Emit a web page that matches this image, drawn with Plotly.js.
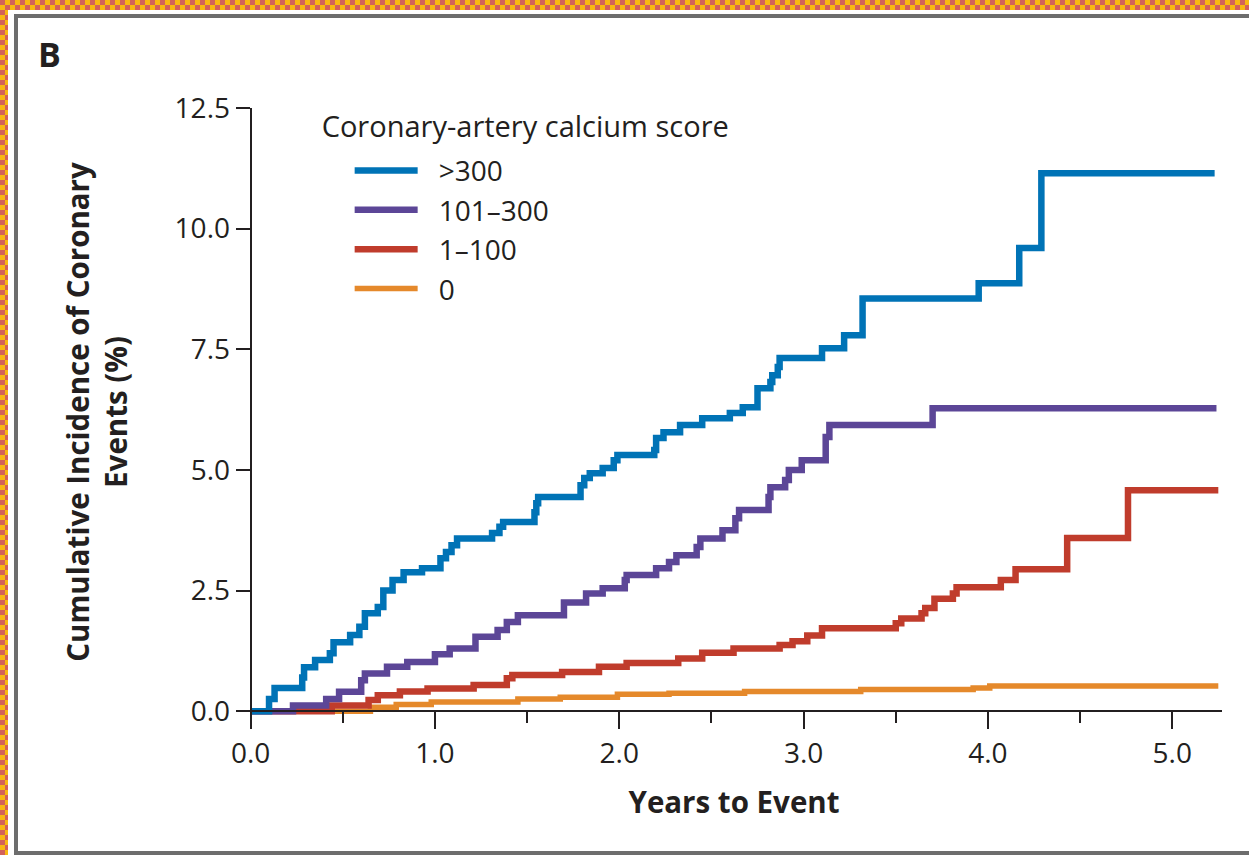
<!DOCTYPE html>
<html><head><meta charset="utf-8">
<script src="https://cdn.plot.ly/plotly-3.0.1.min.js"></script>
<style>
html,body{margin:0;padding:0;width:1249px;height:855px;overflow:hidden;}
body{position:relative;background-color:#d4635a;background-image:repeating-conic-gradient(#f9b812 0 25%, #d2625a 0 50%);background-size:10px 10px;}
#white{position:absolute;left:8px;top:10px;right:0;bottom:0;background:#fff;}
#frame{position:absolute;left:14px;top:14px;width:1300px;bottom:0;border:4px solid #6d6d6d;border-right:none;box-sizing:border-box;}
#chart{position:absolute;left:0;top:0;width:1249px;height:855px;}
</style></head>
<body><div id="white"></div><div id="frame"></div><div id="chart"></div>
<script>
// Series names (legend order)
const seriesNames = ['>300', '101–300', '1–100', '0'];

// >300
const timeGt300 = [0, 0.10, 0.13, 0.28, 0.29, 0.35, 0.43, 0.45, 0.54, 0.59, 0.62, 0.69, 0.72, 0.77, 0.83, 0.93, 1.03, 1.06, 1.09, 1.12, 1.31, 1.35, 1.37, 1.54, 1.55, 1.56, 1.79, 1.81, 1.84, 1.91, 1.97, 1.99, 2.19, 2.20, 2.24, 2.33, 2.45, 2.60, 2.67, 2.75, 2.82, 2.83, 2.86, 2.87, 3.10, 3.22, 3.32, 3.95, 4.17, 4.29, 5.23];
const incGt300 = [0, 0.25, 0.48, 0.70, 0.91, 1.06, 1.20, 1.43, 1.58, 1.75, 2.03, 2.16, 2.50, 2.72, 2.88, 2.96, 3.17, 3.30, 3.44, 3.58, 3.69, 3.82, 3.92, 4.12, 4.31, 4.44, 4.68, 4.83, 4.93, 5.04, 5.20, 5.31, 5.41, 5.66, 5.78, 5.93, 6.07, 6.18, 6.30, 6.69, 6.82, 6.96, 7.13, 7.32, 7.52, 7.79, 8.55, 8.87, 9.60, 11.15, 11.15];

// 101–300
const time101to300 = [0, 0.23, 0.41, 0.48, 0.60, 0.62, 0.74, 0.85, 1.00, 1.08, 1.22, 1.34, 1.39, 1.45, 1.70, 1.82, 1.91, 2.03, 2.04, 2.20, 2.27, 2.31, 2.42, 2.44, 2.56, 2.63, 2.65, 2.81, 2.82, 2.90, 2.92, 2.99, 3.12, 3.14, 3.70, 5.24];
const inc101to300 = [0, 0.12, 0.25, 0.40, 0.64, 0.78, 0.92, 1.02, 1.18, 1.30, 1.54, 1.68, 1.85, 1.99, 2.25, 2.44, 2.55, 2.72, 2.82, 2.96, 3.09, 3.23, 3.40, 3.58, 3.75, 4.00, 4.17, 4.44, 4.64, 4.79, 5.00, 5.20, 5.68, 5.93, 6.28, 6.28];

// 1–100
const time1to100 = [0, 0.44, 0.64, 0.69, 0.81, 0.96, 1.21, 1.39, 1.42, 1.69, 1.89, 2.04, 2.32, 2.45, 2.62, 2.87, 2.94, 3.02, 3.10, 3.50, 3.53, 3.64, 3.66, 3.71, 3.81, 3.83, 4.07, 4.15, 4.43, 4.76, 5.25];
const inc1to100 = [0, 0.12, 0.23, 0.33, 0.41, 0.47, 0.54, 0.68, 0.75, 0.81, 0.92, 1.00, 1.09, 1.21, 1.30, 1.37, 1.45, 1.57, 1.72, 1.82, 1.92, 2.03, 2.14, 2.33, 2.44, 2.57, 2.72, 2.94, 3.59, 4.58, 4.58];

// 0
const time0 = [0, 0.65, 0.79, 0.98, 1.45, 1.68, 1.99, 2.27, 2.68, 3.31, 3.92, 4.01, 5.25];
const inc0 = [0, 0.08, 0.14, 0.19, 0.25, 0.29, 0.35, 0.37, 0.41, 0.45, 0.48, 0.52, 0.52];

// Tick labels
const xTickVals = [0, 1, 2, 3, 4, 5];
const xTickText = ['0.0', '1.0', '2.0', '3.0', '4.0', '5.0'];
const xMinorVals = [0.5, 1.5, 2.5, 3.5, 4.5];
const yTickVals = [0, 2.5, 5, 7.5, 10, 12.5];
const yTickText = ['0.0', '2.5', '5.0', '7.5', '10.0', '12.5'];

const ink = '#231f20';
const FONT = '"Open Sans", "Noto Sans", sans-serif';

const traces = [
  {x: time0, y: inc0, name: seriesNames[3], color: '#e5892b', w: 5.5},
  {x: time1to100, y: inc1to100, name: seriesNames[2], color: '#c03c2c', w: 6.5},
  {x: time101to300, y: inc101to300, name: seriesNames[1], color: '#5c4697', w: 6.5},
  {x: timeGt300, y: incGt300, name: seriesNames[0], color: '#0073b6', w: 6.5}
].map(s => ({
  x: s.x, y: s.y, name: s.name, type: 'scatter', mode: 'lines',
  line: {color: s.color, width: s.w, shape: 'hv'}, hoverinfo: 'skip'
}));

const L = 246.4, R = 27.3, T = 108, B = 139.2;
const W = 1249, H = 855;
const pw = W - L - R, ph = H - T - B;
const px2x = p => (p - L) / pw;
const px2y = p => (H - B - p) / ph;

const layout = {
  width: W, height: H,
  margin: {l: L, r: R, t: T, b: B, pad: 0, autoexpand: false},
  paper_bgcolor: 'rgba(0,0,0,0)', plot_bgcolor: 'rgba(0,0,0,0)',
  font: {family: FONT, size: 28, color: ink},
  showlegend: true,
  legend: {
    xref: 'paper', yref: 'paper',
    x: px2x(320), y: px2y(108), xanchor: 'left', yanchor: 'top',
    traceorder: 'reversed', bgcolor: 'rgba(0,0,0,0)', borderwidth: 0,
    itemwidth: 63, indentation: 30,
    font: {family: FONT, size: 28, color: ink},
    title: {text: 'Coronary-artery calcium score', font: {family: FONT, size: 29, color: ink}}
  },
  xaxis: {
    range: [-0.025, 5.27], anchor: 'free', position: 0.1 / 12.6,
    showgrid: false, zeroline: false,
    showline: true, linecolor: ink, linewidth: 2,
    ticks: 'outside', ticklen: 17, tickwidth: 2, tickcolor: ink,
    tickmode: 'array', tickvals: xTickVals, ticktext: xTickText,
    minor: {tickmode: 'array', tickvals: xMinorVals, ticks: 'outside', ticklen: 11, tickwidth: 2, tickcolor: ink, showgrid: false},
    tickfont: {family: FONT, size: 28, color: ink},
    title: {text: 'Years to Event', font: {family: FONT, size: 29.5, color: ink, weight: 700}, standoff: 22}
  },
  yaxis: {
    range: [-0.1, 12.5], anchor: 'free', position: 0.025 / 5.295,
    showgrid: false, zeroline: false,
    showline: true, linecolor: ink, linewidth: 2,
    ticks: 'outside', ticklen: 14, tickwidth: 2, tickcolor: ink,
    tickmode: 'array', tickvals: yTickVals, ticktext: yTickText,
    tickfont: {family: FONT, size: 28, color: ink},
    title: {text: 'Cumulative Incidence of Coronary<br>Events (%)', font: {family: FONT, size: 29.5, color: ink, weight: 700}, standoff: 37}
  },
  annotations: [{
    xref: 'paper', yref: 'paper', x: px2x(50), y: px2y(54),
    xanchor: 'center', yanchor: 'middle', showarrow: false,
    text: 'B', font: {family: FONT, size: 34, color: ink, weight: 700}
  }]
};

Plotly.newPlot('chart', traces, layout, {displayModeBar: false, staticPlot: true}).then(gd => {
  // widen the gap between legend line samples and their labels, lift the legend title
  gd.querySelectorAll('.legend .legendtext').forEach(t => {
    t.setAttribute('x', (parseFloat(t.getAttribute('x')) || 0) + 16);
  });
  gd.querySelectorAll('.legend .legendtitletext').forEach(t => {
    t.setAttribute('transform', 'translate(0,-9)');
  });
});
</script></body></html>
